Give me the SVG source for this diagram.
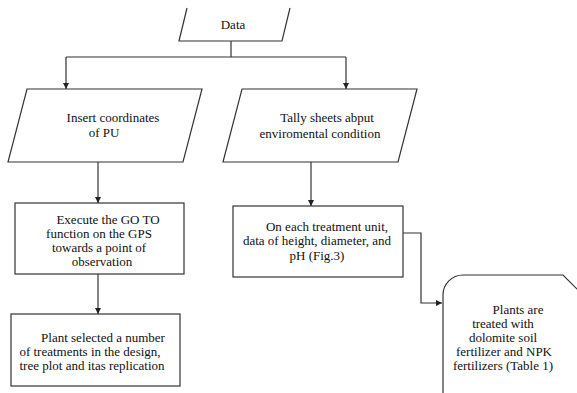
<svg xmlns="http://www.w3.org/2000/svg" width="577" height="393" viewBox="0 0 577 393" font-family="Liberation Serif, DejaVu Serif, serif">
<defs>
<style>
.s{fill:#fff;stroke:#333;stroke-width:1.2}
.c{fill:none;stroke:#333;stroke-width:1.2}
.t{font-family:"Liberation Serif",serif;font-size:13px;fill:#111;text-anchor:middle}
</style>
<marker id="ah" viewBox="0 0 10 10" refX="10" refY="5" markerWidth="6" markerHeight="6" orient="auto" markerUnits="userSpaceOnUse">
<path d="M0,0 L10,5 L0,10 z" fill="#222"/>
</marker>
</defs>
<rect width="577" height="393" fill="#fff"/>
<g id="connectors">
<path class="c" d="M231,41 V57 M66,57 H346"/>
<path class="c" d="M66,57 V89" marker-end="url(#ah)"/>
<path class="c" d="M346,57 V89" marker-end="url(#ah)"/>
<path class="c" d="M98,162 V203" marker-end="url(#ah)"/>
<path class="c" d="M311,162 V206" marker-end="url(#ah)"/>
<path class="c" d="M98,274 V314" marker-end="url(#ah)"/>
<path class="c" d="M402,233 H421 V303 H442" marker-end="url(#ah)"/>
</g>
<g id="data">
<path class="c" d="M187,8 L179,41 H282 L290,8"/>
<text class="t" x="233" y="29">Data</text>
</g>
<g id="insert">
<path class="s" d="M27,89 H202 L183,162 H8 Z"/>
<text class="t" x="113" y="122">Insert coordinates</text>
<text class="t" x="104" y="137">of PU</text>
</g>
<g id="tally">
<path class="s" d="M242,89 H417 L398,162 H223 Z"/>
<text class="t" x="327" y="122">Tally sheets abput</text>
<text class="t" x="320" y="138">enviromental condition</text>
</g>
<g id="execute">
<rect class="s" x="15" y="203" width="169" height="71"/>
<text class="t" x="108" y="224">Execute the GO TO</text>
<text class="t" x="99" y="238">function on the GPS</text>
<text class="t" x="99" y="252">towards a point of</text>
<text class="t" x="102" y="266">observation</text>
</g>
<g id="oneach">
<rect class="s" x="233" y="206" width="170" height="71"/>
<text class="t" x="327" y="231">On each treatment unit,</text>
<text class="t" x="317" y="245">data of height, diameter, and</text>
<text class="t" x="317" y="260">pH (Fig.3)</text>
</g>
<g id="plant">
<rect class="s" x="11" y="314" width="169" height="72"/>
<text class="t" x="103" y="342">Plant selected a number</text>
<text class="t" x="90" y="356">of treatments in the design,</text>
<text class="t" x="92" y="370">tree plot and itas replication</text>
</g>
<g id="plants">
<path class="s" d="M443,400 V295 A20,20 0 0 1 463,275 H563 L580,292 V400"/>
<text class="t" x="518" y="314">Plants are</text>
<text class="t" x="503" y="328">treated with</text>
<text class="t" x="503" y="342">dolomite soil</text>
<text class="t" x="504" y="356">fertilizer and NPK</text>
<text class="t" x="503" y="370">fertilizers (Table 1)</text>
</g>
</svg>
